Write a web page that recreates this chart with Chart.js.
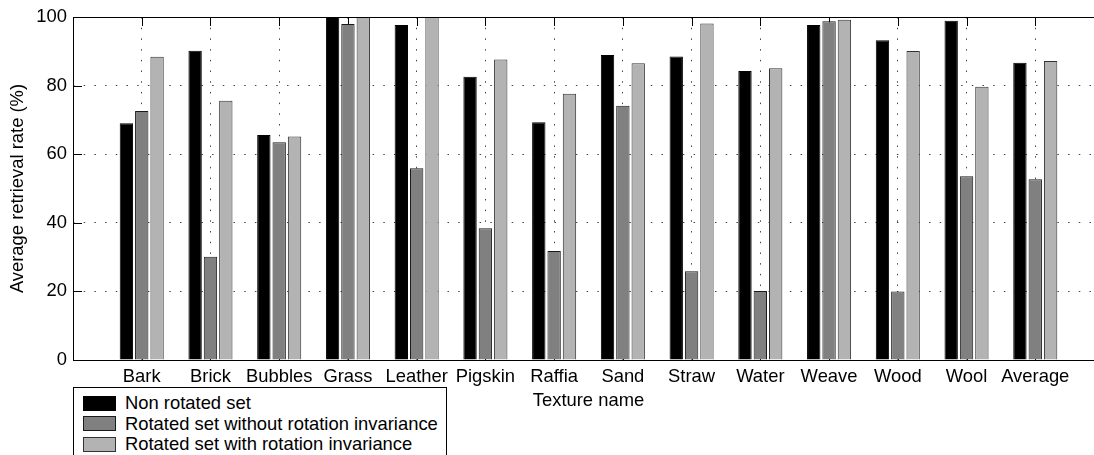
<!DOCTYPE html>
<html>
<head>
<meta charset="utf-8">
<script src="https://cdn.jsdelivr.net/npm/chart.js@4.4.0/dist/chart.umd.min.js"></script>
<style>
  html, body { margin: 0; padding: 0; overflow: hidden; background: #fff; }
  #wrap { position: relative; width: 1094px; height: 455px; overflow: hidden; }
  #retrievalChart { position: absolute; left: 0; top: 0; }
  #legend {
    position: absolute; left: 73px; top: 387px; width: 372px; height: 90px;
    border: 1px solid #000; background: #fff; box-sizing: content-box;
    padding: 5px 0 0 0;
    font-family: "Liberation Sans", Arial, sans-serif; font-size: 18.4px; color: #000;
  }
  .row { height: 20.5px; display: flex; align-items: center; }
  .swatch { width: 31px; height: 13px; margin-left: 9px; margin-right: 9px; border: 1px solid #000; }
</style>
</head>
<body>
<div id="wrap">
  <canvas id="retrievalChart" width="1120" height="455"></canvas>
  <div id="legend"></div>
</div>
<script>
const categories = ['Bark', 'Brick', 'Bubbles', 'Grass', 'Leather', 'Pigskin', 'Raffia', 'Sand', 'Straw', 'Water', 'Weave', 'Wood', 'Wool', 'Average'];
const nonRotated = [69.0, 90.2, 65.6, 100, 97.7, 82.6, 69.3, 88.9, 88.5, 84.3, 97.7, 93.2, 98.9, 86.7];
const rotatedNoInv = [72.6, 30.1, 63.5, 98.0, 55.9, 38.4, 31.8, 74.1, 25.9, 20.1, 98.8, 20.0, 53.6, 52.7];
const rotatedInv = [88.4, 75.6, 65.2, 100, 100, 87.6, 77.6, 86.5, 98.1, 85.1, 99.2, 90.1, 79.7, 87.2];
const yTicks = [0, 20, 40, 60, 80, 100];

const FONT = "'Liberation Sans', Arial, sans-serif";

function toPoints(values) {
  return values.map((v, i) => ({ x: i + 1, y: v }));
}

// MATLAB style box with inward ticks
const boxPlugin = {
  id: 'box',
  beforeDatasetsDraw(chart) {
    const { ctx, chartArea: a, scales } = chart;
    ctx.save();
    ctx.strokeStyle = '#000';
    ctx.lineWidth = 1;
    ctx.setLineDash([]);
    ctx.beginPath();
    categories.forEach((c, i) => {
      const x = Math.round(scales.x.getPixelForValue(i + 1)) + 0.5;
      ctx.moveTo(x, a.top); ctx.lineTo(x, a.top + 9);
      ctx.moveTo(x, a.bottom); ctx.lineTo(x, a.bottom - 9);
    });
    yTicks.forEach(t => {
      const y = Math.round(scales.y.getPixelForValue(t)) + 0.5;
      ctx.moveTo(a.left, y); ctx.lineTo(a.left + 9, y);
      ctx.moveTo(a.right, y); ctx.lineTo(a.right - 9, y);
    });
    ctx.stroke();
    ctx.restore();
  },
  afterDatasetsDraw(chart) {
    const { ctx, chartArea: a } = chart;
    const l = Math.round(a.left) + 0.5, r = Math.round(a.right) + 0.5;
    const t = Math.round(a.top) + 0.5, b = Math.round(a.bottom) + 0.5;
    ctx.save();
    ctx.strokeStyle = '#000';
    ctx.lineWidth = 1;
    ctx.setLineDash([]);
    ctx.strokeRect(l, t, r - l, b - t);
    ctx.restore();
  }
};

const ctx = document.getElementById('retrievalChart').getContext('2d');
const retrievalChart = new Chart(ctx, {
  type: 'bar',
  data: {
    datasets: [{
      label: 'Non rotated set',
      data: toPoints(nonRotated),
      backgroundColor: '#000000',
      borderColor: '#000000',
      borderWidth: 1
    }, {
      label: 'Rotated set without rotation invariance',
      data: toPoints(rotatedNoInv),
      backgroundColor: '#808080',
      borderColor: '#1a1a1a',
      borderWidth: 1
    }, {
      label: 'Rotated set with rotation invariance',
      data: toPoints(rotatedInv),
      backgroundColor: '#b3b3b3',
      borderColor: '#333333',
      borderWidth: 1
    }]
  },
  options: {
    responsive: false,
    animation: false,
    categoryPercentage: 0.67,
    barPercentage: 0.87,
    layout: { padding: { top: 17, right: 16, left: 0, bottom: 0 } },
    plugins: {
      legend: { display: false },
      tooltip: { enabled: false }
    },
    scales: {
      x: {
        type: 'linear',
        min: 0,
        max: 15,
        offset: false,
        afterFit: s => { s.height = 95; },
        grid: { offset: false, color: '#444', lineWidth: 1, drawTicks: false },
        border: { display: false, dash: [1.5, 9.2] },
        ticks: {
          stepSize: 1,
          autoSkip: false,
          maxRotation: 0,
          padding: 6,
          color: '#000',
          font: { family: FONT, size: 18.4 },
          callback: v => categories[v - 1] || ''
        },
        title: {
          display: true,
          text: 'Texture name',
          color: '#000',
          font: { family: FONT, size: 18.4 },
          padding: { top: 0, bottom: 43 }
        }
      },
      y: {
        min: 0,
        max: 100,
        afterFit: s => { s.width = 73; },
        grid: { color: '#444', lineWidth: 1, drawTicks: false },
        border: { display: false, dash: [1.5, 9.2] },
        ticks: {
          stepSize: 20,
          padding: 6,
          color: '#000',
          font: { family: FONT, size: 18.4 }
        },
        title: {
          display: true,
          text: 'Average retrieval rate (%)',
          color: '#000',
          font: { family: FONT, size: 18.4 },
          padding: { top: 7, bottom: 0 }
        }
      }
    }
  },
  plugins: [boxPlugin]
});

// legend in the lower left box
const legendEl = document.getElementById('legend');
retrievalChart.data.datasets.forEach(ds => {
  const row = document.createElement('div');
  row.className = 'row';
  const sw = document.createElement('span');
  sw.className = 'swatch';
  sw.style.background = ds.backgroundColor;
  sw.style.borderColor = ds.borderColor;
  const txt = document.createElement('span');
  txt.textContent = ds.label;
  row.appendChild(sw);
  row.appendChild(txt);
  legendEl.appendChild(row);
});
</script>
</body>
</html>
